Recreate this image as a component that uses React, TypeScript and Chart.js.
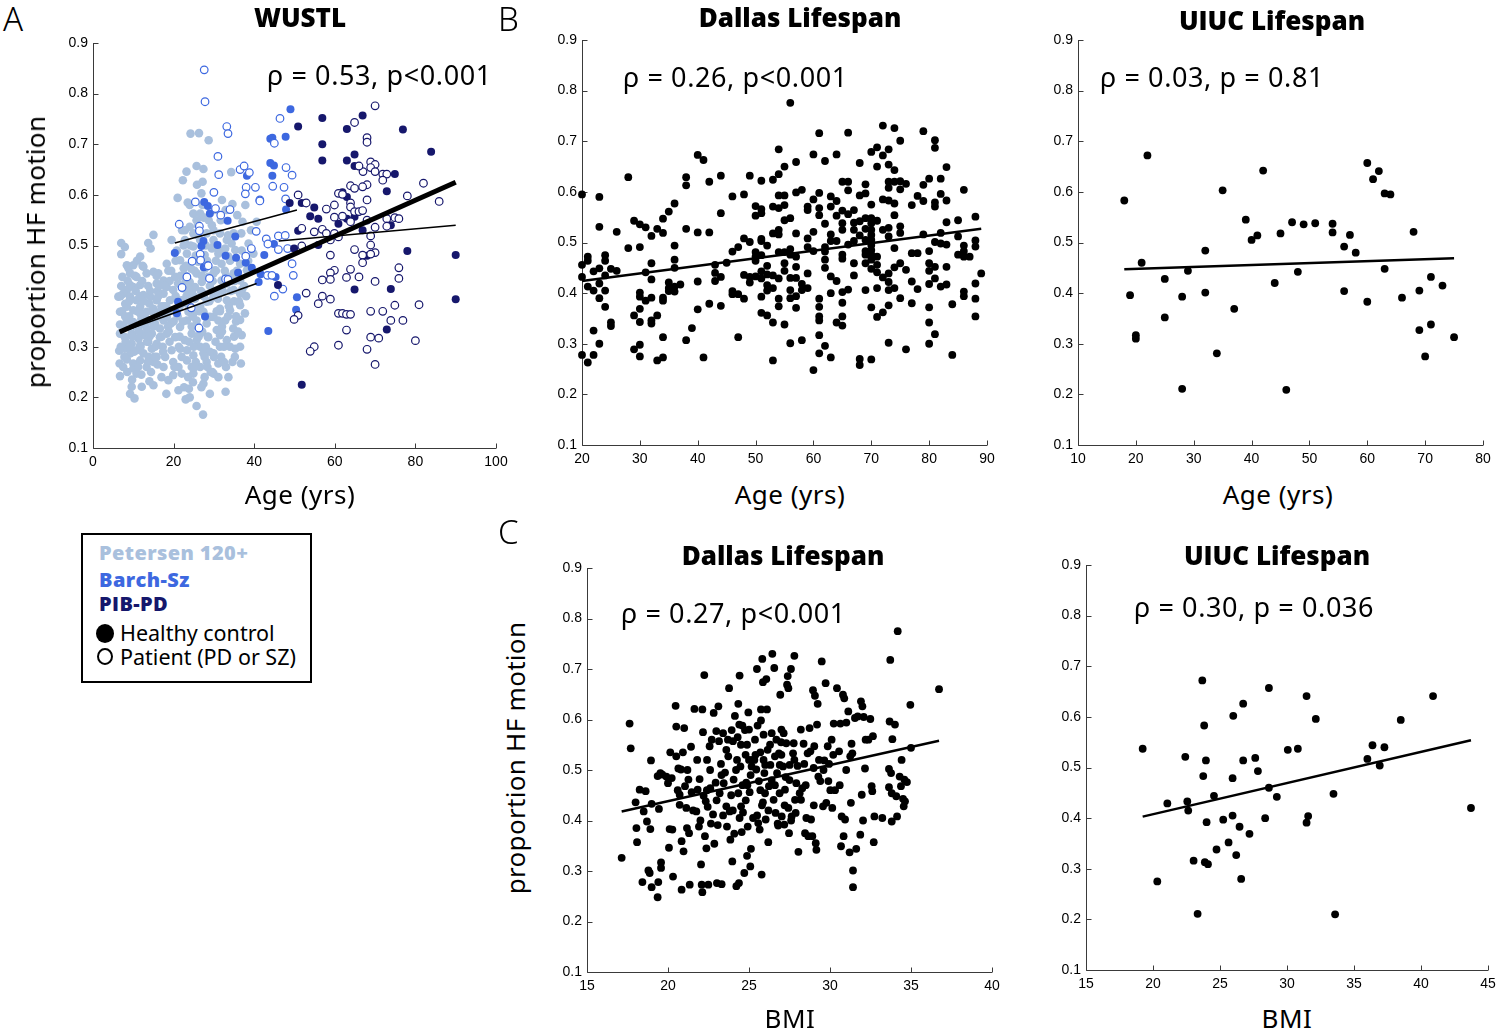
import React, { useEffect, useRef } from "react";
import { Chart, registerables } from "chart.js";
Chart.register(...registerables);

type P = [number, number];

// ---------- tick labels ----------
const hfTicks = [0.1, 0.2, 0.3, 0.4, 0.5, 0.6, 0.7, 0.8, 0.9];
const wustlAgeTicks = [0, 20, 40, 60, 80, 100];
const dallasAgeTicks = [20, 30, 40, 50, 60, 70, 80, 90];
const uiucAgeTicks = [10, 20, 30, 40, 50, 60, 70, 80];
const dallasBmiTicks = [15, 20, 25, 30, 35, 40];
const uiucBmiTicks = [15, 20, 25, 30, 35, 40, 45];

// ---------- WUSTL (age, proportion HF motion) ----------
const petersenControls: P[] = [
  [24.2,0.721],[26.3,0.722],[28.7,0.708],[34.3,0.645],[25.7,0.657],[23.2,0.646],[22.3,0.629],[27.4,0.651],
  [25.8,0.620],[27.2,0.626],[26.9,0.603],[21.0,0.594],[23.5,0.585],[24.9,0.563],[26.6,0.563],[32.0,0.590],
  [34.6,0.582],[32.9,0.570],[40.6,0.547],[22.1,0.530],[24.0,0.537],[19.5,0.511],[15.0,0.521],[13.7,0.505],
  [7.0,0.505],[7.0,0.483],[14.3,0.494],[11.7,0.478],[12.5,0.458],[10.0,0.461],[8.4,0.461],[7.3,0.438],
  [9.2,0.445],[10.8,0.438],[13.3,0.445],[15.0,0.448],[16.2,0.445],[18.3,0.464],[18.7,0.450],[17.5,0.431],
  [15.8,0.425],[13.7,0.420],[11.7,0.422],[10.0,0.418],[8.4,0.412],[7.5,0.405],[9.2,0.399],[10.8,0.392],
  [12.5,0.402],[14.2,0.399],[15.8,0.392],[17.5,0.405],[6.7,0.369],[8.4,0.379],[10.0,0.372],[11.7,0.379],
  [13.3,0.369],[15.0,0.375],[16.6,0.369],[18.7,0.372],[6.7,0.344],[8.4,0.352],[10.0,0.349],[11.7,0.343],
  [13.3,0.349],[15.4,0.346],[17.5,0.352],[19.3,0.346],[6.7,0.326],[7.9,0.319],[9.6,0.326],[11.3,0.316],
  [12.9,0.323],[14.6,0.326],[16.6,0.319],[18.3,0.326],[6.5,0.292],[7.9,0.296],[9.3,0.287],[10.8,0.293],
  [12.5,0.287],[14.6,0.296],[15.8,0.280],[17.3,0.300],[8.4,0.275],[10.0,0.267],[11.7,0.273],[13.3,0.260],
  [15.0,0.270],[17.5,0.260],[19.5,0.293],[6.7,0.242],[10.0,0.257],[10.8,0.247],[14.0,0.232],[15.0,0.224],
  [9.6,0.221],[12.1,0.221],[9.2,0.207],[10.3,0.198],[18.2,0.207],[18.7,0.234],[19.9,0.244],[21.2,0.214],
  [23.0,0.196],[23.8,0.217],[24.8,0.230],[27.3,0.166],[29.6,0.250],[32.9,0.211],[33.6,0.240],[35.3,0.296],
  [36.7,0.267],[35.2,0.280],[36.9,0.323],[37.7,0.366],[36.5,0.353],[34.8,0.336],[36.5,0.382],[34.0,0.372],
  [32.8,0.352],[30.7,0.333],[28.6,0.319],[26.6,0.300],[24.9,0.283],[23.3,0.273],[21.6,0.296],[22.8,0.313],
  [24.5,0.326],[26.6,0.326],[28.2,0.346],[29.9,0.359],[31.5,0.375],[33.2,0.392],[34.9,0.412],[36.5,0.431],
  [38.2,0.451],[36.5,0.464],[34.9,0.445],[33.2,0.425],[31.5,0.412],[29.9,0.399],[28.2,0.389],[26.6,0.379],
  [24.9,0.366],[23.3,0.352],[21.6,0.339],[20.4,0.319],[22.0,0.392],[23.7,0.405],[25.3,0.418],[27.0,0.428],
  [28.6,0.438],[30.3,0.451],[31.9,0.464],[33.6,0.478],[35.3,0.491],[34.9,0.524],[33.2,0.511],[31.5,0.524],
  [29.9,0.511],[28.2,0.524],[26.6,0.511],[24.9,0.498],[23.3,0.484],[21.6,0.471],[20.4,0.438],[19.9,0.412],
  [21.1,0.425],[22.8,0.441],[24.4,0.454],[26.1,0.468],[27.7,0.481],[29.5,0.494],[31.1,0.484],[32.8,0.494],
  [34.4,0.504],[27.4,0.227],[29.0,0.207],[31.1,0.267],[29.9,0.287],[28.2,0.270],[26.6,0.260],[24.9,0.247],
  [31.5,0.300],[33.2,0.313],[31.1,0.240],[25.7,0.183],[22.0,0.247],[36.5,0.405],[37.0,0.413],[37.1,0.547],
  [38.6,0.504],[39.8,0.484],[36.8,0.524],[29.9,0.530],[24.9,0.524],[22.8,0.511],[18.3,0.418],[19.1,0.392],
  [7.9,0.497],[9.2,0.422],[6.3,0.399],[11.7,0.366],[13.3,0.336],[9.6,0.306],[11.7,0.303],[13.7,0.310],
  [15.8,0.306],[17.9,0.280],[19.9,0.270],[21.2,0.260],[6.6,0.267],[7.5,0.260],[14.6,0.352],[16.6,0.336],
  [18.3,0.359],[19.9,0.372],[23.7,0.369],[25.7,0.352],[27.4,0.369],[29.0,0.359],[31.1,0.352],[30.7,0.399],
  [27.4,0.405],[25.3,0.395],[23.3,0.385],[31.9,0.431],[29.9,0.445],[27.7,0.454],[25.7,0.445],[24.0,0.428],
  [22.4,0.415],[31.5,0.323],[25.7,0.313],[27.4,0.287],[23.3,0.293],[24.5,0.260],[27.7,0.240],[29.9,0.247],
  [8.0,0.385],[9.0,0.360],[10.5,0.340],[12.0,0.355],[14.0,0.385],[16.0,0.410],[17.0,0.380],[19.0,0.430],
  [20.5,0.470],[22.5,0.455],[25.0,0.400],[26.0,0.340],[28.0,0.300],[30.0,0.280],[32.0,0.330],[34.0,0.300],
  [35.5,0.350],[33.0,0.440],[30.5,0.470],[28.0,0.500],[26.0,0.540],[24.0,0.580],[27.5,0.555],[23.0,0.430],
  [21.5,0.380],[20.0,0.350],[25.5,0.480],[29.0,0.420],[31.0,0.395],[33.5,0.360],[35.0,0.320],[32.5,0.270],
  [6.8,0.40],[7.2,0.37],[7.6,0.34],[8.1,0.31],[8.6,0.43],[9.0,0.39],[9.4,0.35],[9.8,0.32],[10.2,0.29],
  [10.6,0.41],[11.0,0.37],[11.4,0.33],[11.8,0.30],[12.2,0.43],[12.6,0.39],[13.0,0.35],[13.4,0.31],[13.8,0.28],
  [14.2,0.41],[14.6,0.37],[15.0,0.34],[15.4,0.30],[15.8,0.44],[16.2,0.40],[16.6,0.36],[17.0,0.32],[17.4,0.29],
  [17.8,0.42],[18.2,0.38],[18.6,0.34],[19.0,0.31],[19.4,0.45],[7.0,0.42],[8.0,0.36],[9.2,0.30],[10.4,0.44],
  [11.6,0.40],[12.8,0.36],[14.0,0.32],[15.2,0.28],[16.4,0.42],[17.6,0.38],[18.8,0.33],[8.8,0.455],[10.9,0.47],
  [12.3,0.46],[6.9,0.30],[7.8,0.28],[8.5,0.25],[11.2,0.26],[13.6,0.27],[16.0,0.265],[9.7,0.235],[12.0,0.245],
  [14.4,0.25],[17.0,0.24],[20.5,0.40],[21.0,0.36],[21.5,0.32],[22.0,0.28],[22.5,0.50],[23.0,0.46],[23.5,0.42],
  [24.0,0.38],[24.5,0.34],[25.0,0.30],[25.5,0.27],[26.0,0.52],[26.5,0.48],[27.0,0.44],[27.5,0.40],[28.0,0.36],
  [28.5,0.32],[29.0,0.29],[29.5,0.54],[30.0,0.50],[30.5,0.45],[31.0,0.41],[31.5,0.37],[32.0,0.34],[32.5,0.30],
  [33.0,0.26],[33.5,0.52],[34.0,0.47],[34.5,0.43],[35.0,0.39],[35.5,0.36],[36.0,0.33],[36.5,0.30],[22.3,0.35],
  [23.8,0.31],[25.2,0.45],[26.8,0.41],[28.3,0.47],[29.7,0.43],[31.3,0.49],[32.7,0.45],[34.2,0.41],[35.7,0.45],
  [21.7,0.44],[23.2,0.40],[24.7,0.36],[26.2,0.32],[27.7,0.28],[29.2,0.25],[30.7,0.37],[32.2,0.41],[33.7,0.38],
  [35.2,0.43],[24.2,0.50],[25.7,0.55],[27.2,0.58],[28.7,0.55],[30.2,0.57],[31.7,0.55],[33.2,0.57],[20.8,0.49],
  [22.8,0.53],[24.6,0.41],[26.4,0.37],[28.9,0.39],[30.4,0.31],[27.1,0.33],[25.3,0.26],[23.6,0.24],[26.9,0.22],
  [28.4,0.26],[31.8,0.28],[34.6,0.27],[36.2,0.39],[37.5,0.42],[38.5,0.47],[39.2,0.53],[36.9,0.49],[37.8,0.58],
  [35.8,0.56],[38.0,0.40],[21.3,0.30],[20.2,0.26],[22.6,0.22],[24.0,0.20]
];
const barchControls: P[] = [
  [49.0,0.769],[47.8,0.715],[44.0,0.711],[44.5,0.713],[44.0,0.663],[44.9,0.658],[44.5,0.638],[38.2,0.638],
  [27.6,0.586],[28.5,0.578],[29.0,0.563],[33.4,0.549],[47.9,0.571],[35.3,0.518],[27.4,0.509],[26.9,0.499],
  [20.3,0.485],[30.9,0.501],[32.9,0.480],[35.5,0.476],[42.5,0.481],[37.9,0.466],[39.4,0.456],[27.5,0.457],
  [36.0,0.446],[41.6,0.443],[41.1,0.428],[45.3,0.438],[50.6,0.398],[21.1,0.389],[20.8,0.366],[27.8,0.360],
  [50.4,0.373],[43.5,0.331],[44.9,0.503]
];
const barchPatients: P[] = [
  [27.6,0.847],[27.8,0.784],[33.2,0.735],[33.5,0.721],[31.0,0.676],[31.2,0.640],[36.5,0.650],[37.5,0.657],
  [38.8,0.644],[38.0,0.615],[37.8,0.602],[40.3,0.615],[41.4,0.590],[41.4,0.588],[30.0,0.605],[30.4,0.573],
  [31.7,0.560],[34.0,0.571],[25.4,0.586],[26.4,0.538],[26.4,0.529],[21.4,0.542],[40.5,0.528],[46.4,0.751],
  [45.0,0.702],[47.9,0.654],[49.4,0.639],[44.6,0.617],[47.4,0.615],[47.8,0.592],[46.0,0.519],[47.7,0.520],
  [43.0,0.513],[43.4,0.503],[46.0,0.492],[48.3,0.494],[39.3,0.494],[26.6,0.483],[37.9,0.479],[26.7,0.471],
  [24.6,0.469],[28.4,0.460],[28.6,0.460],[28.9,0.435],[23.3,0.438],[22.1,0.417],[32.9,0.434],[33.5,0.433],
  [43.3,0.441],[44.4,0.441],[49.4,0.464],[49.7,0.441],[47.1,0.414],[45.0,0.400],[24.4,0.377],[26.3,0.337]
];
const pibControls: P[] = [
  [50.9,0.735],[56.9,0.752],[56.9,0.700],[56.9,0.668],[63.0,0.730],[66.9,0.757],[64.9,0.680],[63.0,0.668],
  [64.9,0.657],[76.9,0.729],[83.9,0.685],[74.9,0.641],[72.9,0.607],[48.8,0.584],[51.8,0.584],[54.9,0.575],
  [53.9,0.558],[55.9,0.553],[61.9,0.605],[63.0,0.596],[60.9,0.543],[63.0,0.553],[64.9,0.557],[66.9,0.530],
  [73.9,0.540],[50.9,0.529],[49.9,0.494],[55.9,0.501],[78.0,0.489],[68.0,0.480],[90.0,0.481],[90.0,0.394],
  [45.9,0.422],[64.9,0.413],[73.9,0.414],[72.9,0.334],[51.8,0.225]
];
const pibPatients: P[] = [
  [70.0,0.776],[64.9,0.743],[68.0,0.713],[68.0,0.704],[68.9,0.665],[70.0,0.660],[68.9,0.654],[67.0,0.646],
  [66.0,0.657],[70.0,0.646],[71.9,0.641],[72.9,0.641],[71.9,0.629],[82.0,0.623],[63.9,0.618],[64.9,0.613],
  [68.0,0.620],[66.9,0.616],[60.9,0.603],[61.9,0.601],[78.0,0.598],[85.9,0.587],[68.0,0.590],[50.9,0.600],
  [52.9,0.584],[63.9,0.584],[63.9,0.576],[59.9,0.580],[57.9,0.572],[64.9,0.567],[66.0,0.567],[66.9,0.569],
  [74.9,0.555],[75.9,0.553],[72.9,0.553],[59.9,0.556],[61.9,0.558],[63.9,0.547],[68.0,0.550],[70.0,0.536],
  [72.9,0.538],[51.8,0.534],[54.9,0.527],[56.9,0.532],[57.9,0.524],[59.9,0.524],[60.9,0.517],[68.9,0.519],
  [58.9,0.511],[51.8,0.499],[68.9,0.501],[70.0,0.486],[64.9,0.492],[66.9,0.481],[68.9,0.483],[58.9,0.481],
  [66.9,0.466],[63.9,0.453],[59.9,0.451],[58.9,0.446],[75.9,0.456],[62.9,0.437],[66.0,0.438],[58.9,0.433],
  [56.9,0.432],[70.0,0.429],[75.9,0.435],[52.9,0.406],[56.9,0.400],[58.9,0.394],[55.9,0.385],[74.9,0.382],
  [80.9,0.383],[68.9,0.370],[71.9,0.370],[60.9,0.366],[61.9,0.366],[62.9,0.364],[63.9,0.364],[73.9,0.352],
  [76.9,0.352],[50.9,0.362],[49.9,0.354],[62.9,0.333],[68.9,0.319],[70.9,0.317],[80.0,0.312],[60.9,0.303],
  [54.9,0.300],[53.9,0.291],[68.0,0.295],[70.0,0.265]
];
const wustlFitAll: P[] = [[6.6, 0.329], [90, 0.625]];
const wustlFitPetersen: P[] = [[7, 0.329], [40.6, 0.425]];
const wustlFitBarch: P[] = [[20.3, 0.505], [50.6, 0.570]];
const wustlFitPib: P[] = [[46.1, 0.509], [90, 0.540]];

// ---------- Dallas Lifespan: age columns ----------
const dallasAgeColumns: [number, number[]][] = [
  [20,[0.595,0.456,0.432,0.278]],[21,[0.472,0.464,0.413,0.263]],[22,[0.443,0.405,0.326,0.278]],
  [23,[0.590,0.531,0.449,0.419,0.390,0.300]],[24,[0.475,0.464,0.435,0.405,0.373]],[25,[0.448,0.342,0.335]],
  [26,[0.521,0.444]],[28,[0.629,0.489]],[29,[0.543,0.356,0.289]],
  [30,[0.536,0.491,0.401,0.393,0.369,0.343,0.298,0.275]],[31,[0.530,0.441,0.385]],
  [32,[0.513,0.459,0.427,0.391,0.346,0.340]],[33,[0.527,0.356,0.267]],[34,[0.547,0.519,0.391,0.385,0.313,0.273]],
  [35,[0.561,0.421,0.410,0.404]],[36,[0.577,0.494,0.466,0.450,0.413,0.403]],[37,[0.417]],
  [38,[0.629,0.613,0.527,0.307]],[39,[0.331]],[40,[0.673,0.520,0.423,0.368]],[41,[0.663,0.273]],
  [42,[0.620,0.520,0.379]],[43,[0.456,0.440,0.424]],[44,[0.632,0.558,0.432,0.375]],[45,[0.460]],
  [46,[0.591,0.482,0.404,0.398]],[47,[0.491,0.398,0.313]],[48,[0.595,0.508,0.436,0.389]],
  [49,[0.632,0.501,0.432,0.421]],[50,[0.572,0.553,0.481,0.472,0.464,0.433]],
  [51,[0.622,0.566,0.558,0.507,0.503,0.475,0.443,0.429,0.393,0.361]],
  [52,[0.494,0.454,0.437,0.416,0.405,0.356]],[53,[0.624,0.571,0.518,0.435,0.410,0.342,0.267]],
  [54,[0.635,0.684,0.593,0.568,0.525,0.516,0.481,0.429,0.389,0.374]],
  [55,[0.650,0.593,0.574,0.544,0.481,0.459,0.444,0.338]],
  [56,[0.776,0.548,0.487,0.476,0.430,0.406,0.390,0.301]],
  [57,[0.659,0.599,0.518,0.472,0.452,0.430,0.394,0.371]],[58,[0.604,0.418,0.406,0.307]],
  [59,[0.571,0.564,0.508,0.491,0.439,0.410]],[60,[0.674,0.585,0.521,0.483,0.248]],
  [61,[0.716,0.598,0.568,0.554,0.389,0.373,0.354,0.346,0.317,0.281]],
  [62,[0.661,0.537,0.491,0.482,0.466,0.450,0.296]],[63,[0.591,0.571,0.516,0.503,0.433,0.400,0.273]],
  [64,[0.674,0.582,0.553,0.503,0.424,0.342]],
  [65,[0.620,0.563,0.538,0.525,0.476,0.468,0.402,0.381,0.354,0.336]],
  [66,[0.717,0.620,0.603,0.556,0.496,0.407]],[67,[0.564,0.539,0.525,0.503,0.459,0.435]],
  [68,[0.657,0.593,0.542,0.514,0.270,0.258]],[69,[0.615,0.597,0.548,0.527,0.505,0.483,0.476,0.459,0.406]],
  [70,[0.679,0.575,0.548,0.538,0.525,0.515,0.505,0.495,0.485,0.476,0.466,0.448,0.372,0.269]],
  [71,[0.688,0.650,0.543,0.472,0.456,0.441,0.410,0.353]],[72,[0.731,0.672,0.585,0.525,0.431,0.362]],
  [73,[0.684,0.654,0.620,0.608,0.583,0.529,0.512,0.439,0.422,0.406,0.376,0.302]],
  [74,[0.726,0.643,0.620,0.577,0.554,0.489,0.451,0.410]],[75,[0.701,0.621,0.605,0.532,0.519,0.459,0.390]],
  [76,[0.616,0.446,0.289]],[77,[0.574,0.479,0.423,0.380]],[78,[0.592,0.479,0.408]],
  [79,[0.720,0.614,0.582,0.516]],[80,[0.626,0.483,0.459,0.444,0.418,0.372,0.342,0.300]],
  [81,[0.702,0.687,0.579,0.571,0.501,0.452,0.429,0.319]],[82,[0.626,0.596,0.519,0.498,0.413]],
  [83,[0.649,0.583,0.540,0.496,0.452,0.417]],[84,[0.378,0.278]],[85,[0.544,0.512,0.476]],
  [86,[0.604,0.494,0.483,0.472,0.403,0.394]],[87,[0.472]],[88,[0.551,0.504,0.492,0.419,0.389,0.354]],
  [89,[0.439]]
];
const dallasAgeFit: P[] = [[20, 0.424], [89, 0.527]];

// ---------- UIUC Lifespan: age ----------
const uiucAge: P[] = [
  [18,0.583],[19,0.396],[20,0.317],[20,0.310],[21,0.460],[22,0.672],[25,0.428],[25,0.352],[28,0.393],
  [28,0.211],[29,0.444],[32,0.484],[32,0.401],[34,0.281],[35,0.603],[37,0.369],[39,0.545],[40,0.505],
  [41,0.514],[42,0.642],[44,0.420],[45,0.518],[46,0.209],[47,0.540],[48,0.442],[49,0.536],[51,0.538],
  [54,0.537],[54,0.520],[56,0.492],[56,0.404],[57,0.515],[58,0.480],[60,0.657],[60,0.383],[61,0.625],
  [62,0.641],[63,0.597],[63,0.448],[64,0.595],[66,0.391],[68,0.521],[69,0.405],[69,0.327],[70,0.275],
  [71,0.432],[71,0.338],[73,0.415],[75,0.313]
];
const uiucAgeFit: P[] = [[18, 0.447], [75, 0.469]];

// ---------- Dallas Lifespan: BMI ----------
const dallasBmi: P[] = [
  [17.14,0.326],[17.63,0.592],[17.70,0.543],[18.0,0.436],[18.05,0.385],[18.09,0.357],[18.25,0.461],[18.42,0.278],
  [18.50,0.418],[18.62,0.458],[18.70,0.398],[18.79,0.301],[18.87,0.296],[18.91,0.383],[18.95,0.519],[18.99,0.433],
  [18.99,0.268],[19.36,0.248],[19.40,0.278],[19.36,0.488],[19.44,0.423],[19.53,0.494],[19.57,0.317],[19.57,0.306],
  [19.65,0.491],[19.90,0.487],[20.0,0.474],[20.06,0.346],[20.10,0.383],[20.14,0.535],[20.23,0.484],[20.27,0.382],
  [20.31,0.289],[20.47,0.627],[20.51,0.586],[20.51,0.527],[20.64,0.503],[20.72,0.451],[20.72,0.431],[20.80,0.501],
  [20.84,0.359],[20.84,0.263],[20.92,0.535],[20.96,0.339],[21.0,0.583],[21.05,0.468],[21.13,0.425],[21.17,0.385],
  [21.26,0.481],[21.30,0.375],[21.34,0.273],[21.42,0.546],[21.46,0.456],[21.55,0.420],[21.63,0.621],[21.75,0.418],
  [21.83,0.461],[21.91,0.388],[21.95,0.482],[22.04,0.313],[22.08,0.273],[22.12,0.620],[22.12,0.258],[22.16,0.575],
  [22.20,0.449],[22.24,0.688],[22.28,0.369],[22.33,0.438],[22.37,0.345],[22.41,0.520],[22.45,0.427],[22.49,0.273],
  [22.57,0.547],[22.61,0.464],[22.65,0.394],[22.78,0.412],[22.82,0.613],[22.86,0.354],[22.94,0.475],[22.98,0.577],
  [23.02,0.276],[23.07,0.391],[23.11,0.626],[23.15,0.557],[23.19,0.454],[23.27,0.512],[23.31,0.274],[23.40,0.573],
  [23.44,0.474],[23.52,0.495],[23.60,0.428],[23.64,0.388],[23.72,0.527],[23.77,0.662],[23.81,0.418],[23.85,0.362],
  [23.93,0.579],[23.97,0.319],[24.01,0.557],[24.05,0.481],[24.09,0.374],[24.13,0.607],[24.22,0.270],[24.26,0.520],
  [24.30,0.565],[24.34,0.631],[24.34,0.454],[24.38,0.276],[24.42,0.687],[24.42,0.405],[24.47,0.507],[24.51,0.428],
  [24.55,0.377],[24.59,0.588],[24.63,0.416],[24.71,0.296],[24.75,0.579],[24.79,0.530],[24.83,0.475],[24.88,0.330],
  [24.88,0.550],[24.92,0.388],[24.96,0.614],[25.0,0.520],[25.04,0.456],[25.08,0.309],[25.12,0.344],[25.16,0.507],
  [25.25,0.405],[25.33,0.520],[25.37,0.560],[25.45,0.501],[25.49,0.700],[25.53,0.588],[25.57,0.395],[25.61,0.478],
  [25.66,0.382],[25.70,0.535],[25.74,0.598],[25.74,0.620],[25.78,0.293],[25.82,0.720],[25.86,0.674],[25.86,0.436],
  [25.90,0.570],[25.95,0.494],[25.99,0.454],[26.03,0.402],[26.07,0.680],[26.11,0.620],[26.15,0.540],[26.19,0.357],
  [26.23,0.468],[26.32,0.510],[26.40,0.573],[26.44,0.730],[26.52,0.441],[26.56,0.702],[26.60,0.527],[26.64,0.415],
  [26.69,0.560],[26.73,0.494],[26.77,0.394],[26.85,0.533],[26.89,0.454],[26.93,0.649],[26.98,0.555],[27.02,0.408],
  [27.10,0.507],[27.14,0.573],[27.18,0.392],[27.22,0.461],[27.26,0.486],[27.30,0.553],[27.35,0.669],[27.39,0.686],
  [27.43,0.662],[27.43,0.425],[27.47,0.375],[27.51,0.510],[27.59,0.700],[27.63,0.408],[27.72,0.533],[27.76,0.553],
  [27.80,0.726],[27.84,0.441],[27.88,0.415],[27.92,0.474],[28.0,0.508],[28.05,0.338],[28.13,0.454],[28.21,0.441],
  [28.29,0.464],[28.37,0.552],[28.41,0.512],[28.46,0.375],[28.54,0.405],[28.62,0.533],[28.66,0.369],[28.74,0.583],
  [28.79,0.537],[28.83,0.402],[28.91,0.369],[28.95,0.658],[28.99,0.504],[29.03,0.547],[29.07,0.647],[29.12,0.355],
  [29.16,0.342],[29.20,0.590],[29.24,0.631],[29.28,0.487],[29.32,0.520],[29.40,0.478],[29.49,0.715],[29.57,0.428],
  [29.65,0.519],[29.73,0.672],[29.77,0.435],[29.86,0.547],[29.90,0.478],[29.94,0.512],[30.02,0.460],[30.10,0.560],
  [30.14,0.425],[30.23,0.592],[30.31,0.460],[30.43,0.662],[30.56,0.537],[30.64,0.592],[30.68,0.349],[30.72,0.408],
  [30.80,0.649],[30.84,0.369],[30.88,0.642],[30.93,0.402],[31.01,0.594],[31.13,0.616],[31.21,0.337],[31.25,0.527],
  [31.29,0.435],[31.33,0.552],[31.38,0.533],[31.42,0.301],[31.42,0.268],[31.54,0.603],[31.62,0.344],[31.71,0.606],
  [31.87,0.372],[31.91,0.636],[31.96,0.451],[32.0,0.626],[32.04,0.400],[32.08,0.605],[32.16,0.503],[32.20,0.560],
  [32.37,0.560],[32.49,0.601],[32.57,0.468],[32.61,0.458],[32.65,0.567],[32.70,0.357],[32.74,0.408],[33.23,0.405],
  [33.64,0.502],[33.64,0.466],[33.68,0.596],[33.72,0.718],[33.77,0.494],[33.81,0.454],[33.85,0.561],[33.81,0.398],
  [34.01,0.590],[34.09,0.448],[34.18,0.775],[34.14,0.408],[34.30,0.487],[34.38,0.468],[34.42,0.520],[34.51,0.443],
  [34.55,0.428],[34.59,0.481],[34.63,0.438],[34.75,0.476],[34.96,0.629],[35.0,0.544],[36.73,0.660],
  [22.6,0.500],[23.0,0.440],[23.3,0.490],[23.6,0.540],[23.9,0.450],[24.2,0.500],[24.5,0.550],[24.8,0.440],
  [25.1,0.490],[25.4,0.530],[25.7,0.460],[26.0,0.510],[26.3,0.550],[26.6,0.470],[26.9,0.510],[27.2,0.430],
  [27.5,0.480],[27.8,0.520],[24.0,0.420],[24.6,0.470],[25.2,0.520],[25.8,0.430],[26.4,0.480],[27.0,0.530],
  [23.4,0.410],[22.4,0.460],[21.8,0.520],[21.2,0.500],[20.6,0.460],[22.0,0.400],[28.5,0.470],[29.0,0.430],
  [29.6,0.500],[30.2,0.530],[30.6,0.470],[31.0,0.500],[28.2,0.580],[27.0,0.580],[25.0,0.580],[24.4,0.590],
  [23.7,0.560],[22.7,0.560],[26.2,0.420],[25.5,0.410],[27.6,0.400],[26.8,0.390],[25.9,0.520],[24.9,0.470]
];
const dallasBmiFit: P[] = [[17.14, 0.418], [36.73, 0.558]];

// ---------- UIUC Lifespan: BMI ----------
const uiucBmi: P[] = [
  [19.23,0.537],[20.32,0.275],[21.07,0.429],[22.41,0.521],[22.56,0.433],[22.63,0.415],[23.03,0.316],[23.33,0.211],
  [23.68,0.672],[23.75,0.483],[23.82,0.583],[23.87,0.313],[23.95,0.514],[24.0,0.392],[24.10,0.309],[24.55,0.444],
  [24.74,0.338],[25.24,0.397],[25.64,0.352],[25.94,0.479],[25.94,0.405],[25.99,0.602],[26.21,0.327],[26.46,0.383],
  [26.58,0.280],[26.73,0.626],[26.73,0.514],[27.20,0.369],[27.63,0.519],[27.83,0.493],[28.37,0.400],[28.65,0.657],
  [28.65,0.460],[29.24,0.442],[30.06,0.535],[30.81,0.537],[31.46,0.641],[31.46,0.391],[31.58,0.404],[32.15,0.596],
  [33.47,0.448],[33.59,0.210],[36.0,0.517],[36.38,0.544],[36.92,0.504],[37.27,0.540],[38.49,0.594],[40.90,0.641],
  [43.73,0.420]
];
const uiucBmiFit: P[] = [[19.23, 0.403], [43.73, 0.554]];

// ---------- colours ----------
const PETERSEN = "#a9c0dd";
const BARCH = "#3d68e0";
const PIB = "#16176c";

// ---------- helpers ----------
const toXY = (pts: P[]) => pts.map(([x, y]) => ({ x, y }));
const flatCols = (cols: [number, number[]][]) =>
  cols.flatMap(([x, ys]) => ys.map((y) => ({ x, y })));

const PADL = 50, PADR = 25, PADT = 15, PADB = 30;

const axesPlugin = {
  id: "matlabAxes",
  beforeDatasetsDraw(chart: any) {
    const { ctx, chartArea: a, scales } = chart;
    ctx.save();
    ctx.strokeStyle = "#3a3a3a";
    ctx.lineWidth = 1;
    ctx.beginPath();
    const L = Math.round(a.left) + 0.5;
    const B = Math.round(a.bottom) + 0.5;
    ctx.moveTo(L, a.top);
    ctx.lineTo(L, B);
    ctx.lineTo(a.right, B);
    scales.x.ticks.forEach((t: any) => {
      const px = Math.round(scales.x.getPixelForValue(t.value)) + 0.5;
      ctx.moveTo(px, B);
      ctx.lineTo(px, B - 5);
    });
    scales.y.ticks.forEach((t: any) => {
      const py = Math.round(scales.y.getPixelForValue(t.value)) + 0.5;
      ctx.moveTo(L, py);
      ctx.lineTo(L + 5, py);
    });
    ctx.stroke();
    ctx.restore();
  },
};

type PanelProps = {
  left: number; top: number; right: number; bottom: number;
  xMin: number; xMax: number; xTicks: number[];
  datasets: any[];
};

function Panel({ left, top, right, bottom, xMin, xMax, xTicks, datasets }: PanelProps) {
  const ref = useRef<HTMLCanvasElement>(null);
  const W = right - left + PADL + PADR;
  const H = bottom - top + PADT + PADB;
  useEffect(() => {
    if (!ref.current) return;
    const tickFont = { family: "'Liberation Sans', Arial, sans-serif", size: 14 };
    const chart = new Chart(ref.current, {
      type: "scatter",
      data: { datasets },
      options: {
        responsive: false,
        animation: false,
        events: [],
        layout: { padding: { left: 0, right: PADR, top: PADT, bottom: 0 } },
        plugins: { legend: { display: false }, tooltip: { enabled: false }, title: { display: false } },
        scales: {
          x: {
            type: "linear", min: xMin, max: xMax,
            afterBuildTicks: (s: any) => { s.ticks = xTicks.map((v) => ({ value: v })); },
            afterFit: (s: any) => { s.height = PADB; },
            grid: { display: false, drawTicks: false },
            border: { display: false },
            ticks: { color: "#000", font: tickFont, padding: 6, maxRotation: 0, autoSkip: false,
              callback: (v: any) => String(v) },
          },
          y: {
            type: "linear", min: 0.1, max: 0.9,
            afterBuildTicks: (s: any) => { s.ticks = hfTicks.map((v) => ({ value: v })); },
            afterFit: (s: any) => { s.width = PADL; },
            grid: { display: false, drawTicks: false },
            border: { display: false },
            ticks: { color: "#000", font: tickFont, padding: 5, autoSkip: false,
              callback: (v: any) => Number(v).toFixed(1) },
          },
        },
      } as any,
      plugins: [axesPlugin],
    });
    return () => chart.destroy();
  }, []);
  return (
    <canvas
      ref={ref}
      width={W}
      height={H}
      style={{ position: "absolute", left: left - PADL, top: top - PADT, width: W, height: H }}
    />
  );
}

const dots = (pts: any[], color: string, order: number, r = 4) => ({
  data: pts, pointRadius: r, pointBackgroundColor: color, pointBorderWidth: 0,
  pointBorderColor: color, showLine: false, order, clip: false,
});
const rings = (pts: any[], color: string, order: number) => ({
  data: pts, pointRadius: 3.8, pointBackgroundColor: "#fff", pointBorderWidth: 1.2,
  pointBorderColor: color, showLine: false, order, clip: false,
});
const fit = (pts: P[], width: number, order = 0) => ({
  data: toXY(pts), showLine: true, borderColor: "#000", borderWidth: width, pointRadius: 0,
  order, clip: false, borderCapStyle: "butt",
});

const bodyFont = "'Noto Sans', 'Open Sans', sans-serif";
const titleFont = "'Open Sans', 'Noto Sans', sans-serif";

function Txt({ x, y, children, size, weight = 400, color = "#000", align = "left", family = bodyFont, rotate = false, ls = 0 }: any) {
  const tx = align === "center" ? "-50%" : "0";
  return (
    <div
      style={{
        position: "absolute", left: x, top: y, whiteSpace: "nowrap", fontFamily: family,
        fontSize: size, fontWeight: weight, color, lineHeight: 1, letterSpacing: ls,
        transform: rotate ? "translate(-50%,-50%) rotate(-90deg)" : `translate(${tx},-50%)`,
      }}
    >
      {children}
    </div>
  );
}

export default function App() {
  return (
    <div style={{ position: "absolute", left: 0, top: 0, width: 1500, height: 1031, overflow: "hidden", background: "#fff" }}>
      <Panel left={93} top={43} right={496} bottom={448} xMin={0} xMax={100} xTicks={wustlAgeTicks}
        datasets={[
          fit(wustlFitAll, 5, 0), fit(wustlFitPetersen, 1.5, 0), fit(wustlFitBarch, 1.5, 0), fit(wustlFitPib, 1.5, 0),
          rings(toXY(pibPatients), PIB, 1), dots(toXY(pibControls), PIB, 2),
          rings(toXY(barchPatients), BARCH, 3), dots(toXY(barchControls), BARCH, 4),
          dots(toXY(petersenControls), PETERSEN, 5, 4.3),
        ]} />
      <Panel left={582} top={40} right={987} bottom={445} xMin={20} xMax={90} xTicks={dallasAgeTicks}
        datasets={[fit(dallasAgeFit, 2.5), dots(flatCols(dallasAgeColumns), "#000", 1, 3.9)]} />
      <Panel left={1078} top={40} right={1483} bottom={445} xMin={10} xMax={80} xTicks={uiucAgeTicks}
        datasets={[fit(uiucAgeFit, 2.5), dots(toXY(uiucAge), "#000", 1, 3.9)]} />
      <Panel left={587} top={568} right={992} bottom={972} xMin={15} xMax={40} xTicks={dallasBmiTicks}
        datasets={[fit(dallasBmiFit, 2.5), dots(toXY(dallasBmi), "#000", 1, 3.9)]} />
      <Panel left={1086} top={565} right={1488} bottom={970} xMin={15} xMax={45} xTicks={uiucBmiTicks}
        datasets={[fit(uiucBmiFit, 2.5), dots(toXY(uiucBmi), "#000", 1, 3.9)]} />

      {/* panel letters */}
      <Txt x={3} y={18} size={33} weight={300}>A</Txt>
      <Txt x={498} y={18} size={33} weight={300}>B</Txt>
      <Txt x={498} y={531} size={33} weight={300}>C</Txt>

      {/* titles */}
      <Txt x={300} y={17} size={26} weight={800} family={titleFont} align="center">WUSTL</Txt>
      <Txt x={800} y={17} size={26} weight={800} family={titleFont} align="center">Dallas Lifespan</Txt>
      <Txt x={1272} y={20} size={26} weight={800} family={titleFont} align="center">UIUC Lifespan</Txt>
      <Txt x={783} y={555} size={26} weight={800} family={titleFont} align="center">Dallas Lifespan</Txt>
      <Txt x={1277} y={555} size={26} weight={800} family={titleFont} align="center">UIUC Lifespan</Txt>

      {/* statistics */}
      <Txt x={267} y={74} size={27} ls={0.6}>ρ = 0.53, p&lt;0.001</Txt>
      <Txt x={623} y={76} size={27} ls={0.6}>ρ = 0.26, p&lt;0.001</Txt>
      <Txt x={1100} y={76} size={27} ls={0.6}>ρ = 0.03, p = 0.81</Txt>
      <Txt x={621} y={612} size={27} ls={0.6}>ρ = 0.27, p&lt;0.001</Txt>
      <Txt x={1134} y={606} size={27} ls={0.6}>ρ = 0.30, p = 0.036</Txt>

      {/* axis titles */}
      <Txt x={300} y={494} size={26} ls={0.5} align="center">Age (yrs)</Txt>
      <Txt x={790} y={494} size={26} ls={0.5} align="center">Age (yrs)</Txt>
      <Txt x={1278} y={494} size={26} ls={0.5} align="center">Age (yrs)</Txt>
      <Txt x={790} y={1018} size={26} ls={0.5} align="center">BMI</Txt>
      <Txt x={1287} y={1018} size={26} ls={0.5} align="center">BMI</Txt>
      <Txt x={35} y={252} size={26} ls={0.3} rotate>proportion HF motion</Txt>
      <Txt x={515} y={758} size={26} ls={0.3} rotate>proportion HF motion</Txt>

      {/* legend */}
      <div style={{ position: "absolute", left: 81, top: 533, width: 231, height: 150, border: "2px solid #000", boxSizing: "border-box" }} />
      <Txt x={99} y={553} size={20} weight={800} ls={0.4} family={titleFont} color={PETERSEN}>Petersen 120+</Txt>
      <Txt x={99} y={580} size={20} weight={800} ls={0.4} family={titleFont} color={BARCH}>Barch-Sz</Txt>
      <Txt x={99} y={604} size={20} weight={800} ls={0.4} family={titleFont} color={PIB}>PIB-PD</Txt>
      <div style={{ position: "absolute", left: 96, top: 624, width: 18, height: 19, borderRadius: "50%", background: "#000" }} />
      <div style={{ position: "absolute", left: 97, top: 648, width: 16, height: 17, borderRadius: "50%", border: "2.5px solid #000", boxSizing: "border-box" }} />
      <Txt x={120} y={633} size={21.5}>Healthy control</Txt>
      <Txt x={120} y={657} size={21.5}>Patient (PD or SZ)</Txt>
    </div>
  );
}
